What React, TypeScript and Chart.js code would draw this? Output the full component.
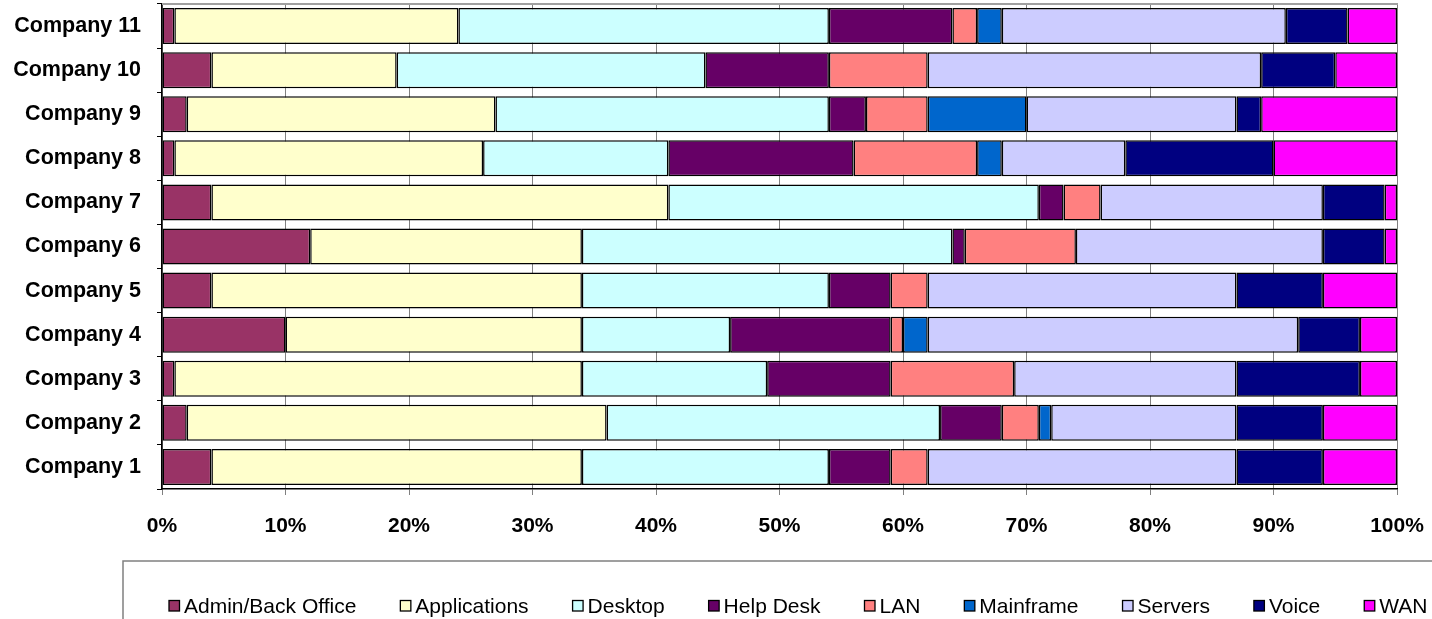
import React, { useEffect, useRef } from "react";
import { Chart, registerables } from "chart.js";

Chart.register(...registerables);

const companies = [
  "Company 1", "Company 2", "Company 3", "Company 4", "Company 5", "Company 6",
  "Company 7", "Company 8", "Company 9", "Company 10", "Company 11",
];

const adminBackOffice = [4, 2, 1, 10, 4, 12, 4, 1, 2, 4, 1];
const applications = [30, 34, 33, 24, 30, 22, 37, 25, 25, 15, 23];
const desktop = [20, 27, 15, 12, 20, 30, 30, 15, 27, 25, 30];
const helpDesk = [5, 5, 10, 13, 5, 1, 2, 15, 3, 10, 10];
const lan = [3, 3, 10, 1, 3, 9, 3, 10, 5, 8, 2];
const mainframe = [0, 1, 0, 2, 0, 0, 0, 2, 8, 0, 2];
const servers = [25, 15, 18, 30, 25, 20, 18, 10, 17, 27, 23];
const voice = [7, 7, 10, 5, 7, 5, 5, 12, 2, 6, 5];
const wan = [6, 6, 3, 3, 6, 1, 1, 10, 11, 5, 4];

const seriesNames = [
  "Admin/Back Office", "Applications", "Desktop", "Help Desk", "LAN",
  "Mainframe", "Servers", "Voice", "WAN",
];
const seriesValues = [adminBackOffice, applications, desktop, helpDesk, lan, mainframe, servers, voice, wan];
const seriesColors = [
  "#993366", "#FFFFCC", "#CCFFFF", "#660066", "#FF8080",
  "#0066CC", "#CCCCFF", "#000080", "#FF00FF",
];

const xTickValues = [0, 10, 20, 30, 40, 50, 60, 70, 80, 90, 100];

const FONT = "Arial, 'Liberation Sans', Helvetica, sans-serif";

const boxLegend = {
  id: "boxLegend",
  afterDraw(chart: any) {
    const ctx = chart.ctx;
    ctx.save();
    // legend frame
    ctx.strokeStyle = "#808080";
    ctx.lineWidth = 1.5;
    ctx.beginPath();
    ctx.moveTo(123, 630);
    ctx.lineTo(123, 561);
    ctx.lineTo(1450, 561);
    ctx.stroke();

    ctx.font = `21px ${FONT}`;
    ctx.textBaseline = "alphabetic";
    ctx.textAlign = "left";
    let x = 169;
    chart.data.datasets.forEach((ds: any) => {
      ctx.fillStyle = ds.backgroundColor;
      ctx.fillRect(x, 600.5, 10.5, 10.5);
      ctx.strokeStyle = "#000";
      ctx.lineWidth = 1.3;
      ctx.strokeRect(x, 600.5, 10.5, 10.5);
      ctx.fillStyle = "#000";
      ctx.fillText(ds.label, x + 15, 613);
      x += 15 + ctx.measureText(ds.label).width + 44;
    });

    // top border of plot area
    const a = chart.chartArea;
    ctx.strokeStyle = "#a0a0a0";
    ctx.lineWidth = 2;
    ctx.beginPath();
    ctx.moveTo(a.left, a.top);
    ctx.lineTo(a.right + 1, a.top);
    ctx.stroke();
    ctx.restore();
  },
};

export default function App() {
  const ref = useRef<HTMLCanvasElement>(null);

  useEffect(() => {
    document.body.style.margin = "0";
    const chart = new Chart(ref.current!, {
      type: "bar",
      data: {
        labels: companies,
        datasets: seriesNames.map((name, i) => ({
          label: name,
          data: seriesValues[i],
          backgroundColor: seriesColors[i],
          borderColor: "#000000",
          borderWidth: 1.5,
          borderSkipped: false,
          barPercentage: 0.816,
          categoryPercentage: 1,
        })),
      },
      options: {
        indexAxis: "y",
        responsive: false,
        animation: false,
        maintainAspectRatio: false,
        layout: { padding: { left: 0, right: 35, top: 4, bottom: 0 } },
        plugins: {
          legend: { display: false },
          tooltip: { enabled: false },
        },
        scales: {
          x: {
            stacked: true,
            min: 0,
            max: 100,
            afterBuildTicks: (scale: any) => {
              scale.ticks = xTickValues.map((v) => ({ value: v }));
            },
            afterFit: (scale: any) => {
              scale.height = 130;
              scale.paddingLeft = 0;
              scale.paddingRight = 0;
              scale.paddingTop = 0;
              scale.paddingBottom = 0;
            },
            ticks: {
              callback: (v: any) => `${v}%`,
              color: "#000",
              font: { family: FONT, size: 21, weight: "bold" },
              padding: 19,
              maxRotation: 0,
            },
            grid: {
              color: "#808080",
              lineWidth: 1,
              tickLength: 6,
              drawTicks: true,
            },
            border: { display: true, color: "#000", width: 1.5 },
          },
          y: {
            stacked: true,
            reverse: true,
            afterFit: (scale: any) => {
              scale.width = 162;
              scale.paddingLeft = 0;
              scale.paddingRight = 0;
              scale.paddingTop = 0;
              scale.paddingBottom = 0;
            },
            ticks: {
              color: "#000",
              font: { family: FONT, size: 21.5, weight: "bold" },
              padding: 16,
            },
            grid: {
              display: true,
              drawOnChartArea: false,
              color: "#000",
              tickLength: 5,
            },
            border: { display: true, color: "#000", width: 1.5 },
          },
        },
      },
      plugins: [boxLegend],
    });
    return () => chart.destroy();
  }, []);

  return (
    <div style={{ position: "fixed", left: 0, top: 0, width: 1432, height: 619 }}>
      <canvas ref={ref} width={1432} height={619} />
    </div>
  );
}
